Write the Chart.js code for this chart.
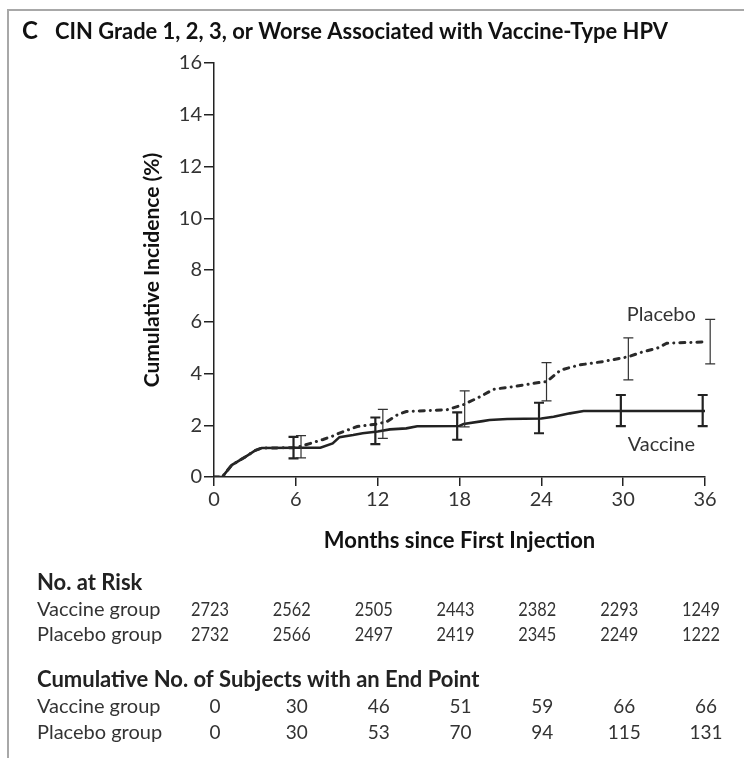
<!DOCTYPE html>
<html>
<head>
<meta charset="utf-8">
<script src="https://cdn.jsdelivr.net/npm/chart.js@4.4.1/dist/chart.umd.min.js"></script>
<style>
  html, body { margin: 0; padding: 0; background: #ffffff; }
  #wrap { position: relative; width: 744px; height: 758px; }
  canvas { display: block; }
</style>
</head>
<body>
<div id="wrap"><canvas id="chart" width="744" height="758"></canvas></div>
<script>
// ---- data ----
const tableMonths = [0, 6, 12, 18, 24, 30, 36];

// Kaplan-Meier style cumulative incidence (%), vaccine group
const vaccineMonths = [0, 0.6, 1.3, 2.3, 3.0, 3.5, 6, 7.8, 8.7, 9.2, 10.2, 10.9, 12, 12.9, 14.1, 14.9, 18, 18.3, 19.7, 20.2, 21.5, 24, 24.9, 26.1, 27.1, 36];
const vaccineIncidence = [0, 0, 0.46, 0.78, 1.02, 1.12, 1.13, 1.13, 1.3, 1.54, 1.62, 1.69, 1.76, 1.84, 1.88, 1.96, 1.97, 2.05, 2.16, 2.2, 2.24, 2.26, 2.33, 2.46, 2.55, 2.55];

// cumulative incidence (%), placebo group
const placeboMonths = [0, 0.6, 1.3, 2.3, 3.0, 3.5, 6, 6.7, 8.0, 8.9, 9.2, 10.5, 12, 12.7, 13.5, 14.1, 17.1, 18.3, 19.5, 20.5, 21.9, 23.7, 24.4, 25.0, 25.4, 26.8, 28.5, 29.8, 30.4, 31.2, 32.5, 33.2, 36];
const placeboIncidence = [0, 0, 0.46, 0.78, 1.02, 1.12, 1.13, 1.24, 1.45, 1.62, 1.7, 1.95, 2.05, 2.15, 2.42, 2.53, 2.6, 2.8, 3.1, 3.39, 3.49, 3.64, 3.69, 3.95, 4.13, 4.33, 4.46, 4.59, 4.65, 4.8, 4.98, 5.17, 5.22];

// 95% confidence limits at 6-month marks
const ciMonths = [6, 12, 18, 24, 30, 36];
const vaccineLow = [0.72, 1.27, 1.44, 1.69, 1.97, 1.97];
const vaccineHigh = [1.55, 2.30, 2.50, 2.87, 3.17, 3.17];
const placeboLow = [0.74, 1.49, 1.94, 2.94, 3.75, 4.37];
const placeboHigh = [1.60, 2.61, 3.33, 4.42, 5.38, 6.09];

// risk table
const atRiskVaccine = [2723, 2562, 2505, 2443, 2382, 2293, 1249];
const atRiskPlacebo = [2732, 2566, 2497, 2419, 2345, 2249, 1222];
const endPointVaccine = [0, 30, 46, 51, 59, 66, 66];
const endPointPlacebo = [0, 30, 53, 70, 94, 115, 131];

const yTickValues = [0, 2, 4, 6, 8, 10, 12, 14, 16];

// ---- styling ----
const FONT = 'Lato, "Open Sans", "DejaVu Sans", sans-serif';
const INK = '#222222';
const TEXT = '#333333';

const toPoints = (xs, ys) => xs.map((x, i) => ({ x: x, y: ys[i] }));

// frame, heading, curve labels, error bars and the tables beneath the plot
const decorations = {
  id: 'decorations',
  afterDatasetsDraw(chart) {
    const ctx = chart.ctx;
    const xs = chart.scales.x;
    const ys = chart.scales.y;

    // error bars: vaccine slightly left, placebo slightly right of each mark
    const drawBar = (t, lo, hi, width, color) => {
      const px = xs.getPixelForValue(t);
      const pLo = ys.getPixelForValue(lo);
      const pHi = ys.getPixelForValue(hi);
      const cap = 5;
      ctx.save();
      ctx.strokeStyle = color;
      ctx.lineWidth = width;
      ctx.beginPath();
      ctx.moveTo(px, pLo); ctx.lineTo(px, pHi);
      ctx.moveTo(px - cap, pLo); ctx.lineTo(px + cap, pLo);
      ctx.moveTo(px - cap, pHi); ctx.lineTo(px + cap, pHi);
      ctx.stroke();
      ctx.restore();
    };
    ciMonths.forEach((m, i) => {
      drawBar(m - 0.17, vaccineLow[i], vaccineHigh[i], 2.2, INK);
      drawBar(m + 0.38, placeboLow[i], placeboHigh[i], 1.2, '#333');
    });

    ctx.save();
    ctx.fillStyle = TEXT;
    ctx.font = '20px ' + FONT;
    ctx.textAlign = 'center';
    ctx.textBaseline = 'middle';
    ctx.fillText('Placebo', xs.getPixelForValue(32.8), ys.getPixelForValue(6.26));
    ctx.fillText('Vaccine', xs.getPixelForValue(32.8), ys.getPixelForValue(1.27));
    ctx.restore();
  },
  afterDraw(chart) {
    const ctx = chart.ctx;
    const xs = chart.scales.x;
    ctx.save();

    // panel frame
    ctx.strokeStyle = '#a8a8a8';
    ctx.lineWidth = 2;
    ctx.beginPath();
    ctx.moveTo(8, 758); ctx.lineTo(8, 10); ctx.lineTo(744, 10);
    ctx.stroke();

    // heading
    ctx.fillStyle = '#111';
    ctx.textBaseline = 'alphabetic';
    ctx.textAlign = 'left';
    ctx.font = 'bold 24px ' + FONT;
    ctx.fillText('C', 22, 39);
    ctx.font = 'bold 22px ' + FONT;
    ctx.fillText('CIN Grade 1, 2, 3, or Worse Associated with Vaccine-Type HPV', 55, 39, 613);

    // tables
    const rowY = { riskHead: 583, riskVac: 610, riskPla: 635, epHead: 680, epVac: 707, epPla: 733 };
    ctx.textBaseline = 'middle';
    ctx.fillStyle = INK;
    ctx.font = 'bold 22px ' + FONT;
    ctx.fillText('No. at Risk', 37, rowY.riskHead);
    ctx.fillText('Cumulative No. of Subjects with an End Point', 37, rowY.epHead, 446);
    ctx.font = '20px ' + FONT;
    ctx.fillStyle = TEXT;
    ctx.fillText('Vaccine group', 37, rowY.riskVac);
    ctx.fillText('Placebo group', 37, rowY.riskPla);
    ctx.fillText('Vaccine group', 37, rowY.epVac);
    ctx.fillText('Placebo group', 37, rowY.epPla);

    ctx.font = '19px ' + FONT;
    ctx.textAlign = 'center';
    tableMonths.forEach((m, i) => {
      const px = xs.getPixelForValue(m);
      ctx.fillText(String(atRiskVaccine[i]), px - 4, rowY.riskVac, 38);
      ctx.fillText(String(atRiskPlacebo[i]), px - 4, rowY.riskPla, 38);
      ctx.fillText(String(endPointVaccine[i]), px + 1, rowY.epVac);
      ctx.fillText(String(endPointPlacebo[i]), px + 1, rowY.epPla);
    });
    ctx.restore();
  }
};

const ctx = document.getElementById('chart').getContext('2d');
new Chart(ctx, {
  type: 'line',
  data: {
    datasets: [
      {
        label: 'Placebo',
        data: toPoints(placeboMonths, placeboIncidence),
        borderColor: '#2a2a2a',
        borderWidth: 3,
        borderDash: [5, 6, 0.1, 6],
        borderCapStyle: 'round',
        pointRadius: 0,
        tension: 0,
        fill: false
      },
      {
        label: 'Vaccine',
        data: toPoints(vaccineMonths, vaccineIncidence),
        borderColor: INK,
        borderWidth: 2.6,
        pointRadius: 0,
        tension: 0,
        fill: false
      }
    ]
  },
  options: {
    responsive: false,
    animation: false,
    devicePixelRatio: 1,
    layout: { padding: { left: 140, top: 63, right: 39, bottom: 204 } },
    plugins: {
      legend: { display: false },
      tooltip: { enabled: false },
      title: { display: false }
    },
    scales: {
      x: {
        type: 'linear',
        min: 0,
        max: 36,
        afterFit(scale) { scale.height = 77; },
        ticks: {
          stepSize: 6,
          color: TEXT,
          font: { family: FONT, size: 20 },
          padding: 2
        },
        grid: { drawOnChartArea: false, drawTicks: true, tickLength: 9, color: INK, lineWidth: 1.5 },
        border: { display: true, color: INK, width: 1.5 },
        title: {
          display: true,
          text: 'Months since First Injection',
          color: '#111',
          font: { family: FONT, size: 22, weight: 'bold' },
          padding: { top: 0, bottom: 0 }
        }
      },
      y: {
        type: 'linear',
        min: 0,
        max: 16,
        afterFit(scale) { scale.width = 74; },
        ticks: {
          stepSize: 1,
          color: TEXT,
          font: { family: FONT, size: 20 },
          padding: 2,
          callback: (v) => (yTickValues.includes(v) ? String(v) : '')
        },
        grid: { drawOnChartArea: false, drawTicks: true, tickLength: 10, color: INK, lineWidth: 1.5 },
        border: { display: true, color: INK, width: 1.5 },
        title: {
          display: true,
          text: 'Cumulative Incidence (%)',
          color: '#111',
          font: { family: FONT, size: 21, weight: 'bold' },
          padding: { top: 0, bottom: 0 }
        }
      }
    }
  },
  plugins: [decorations]
});
</script>
</body>
</html>
